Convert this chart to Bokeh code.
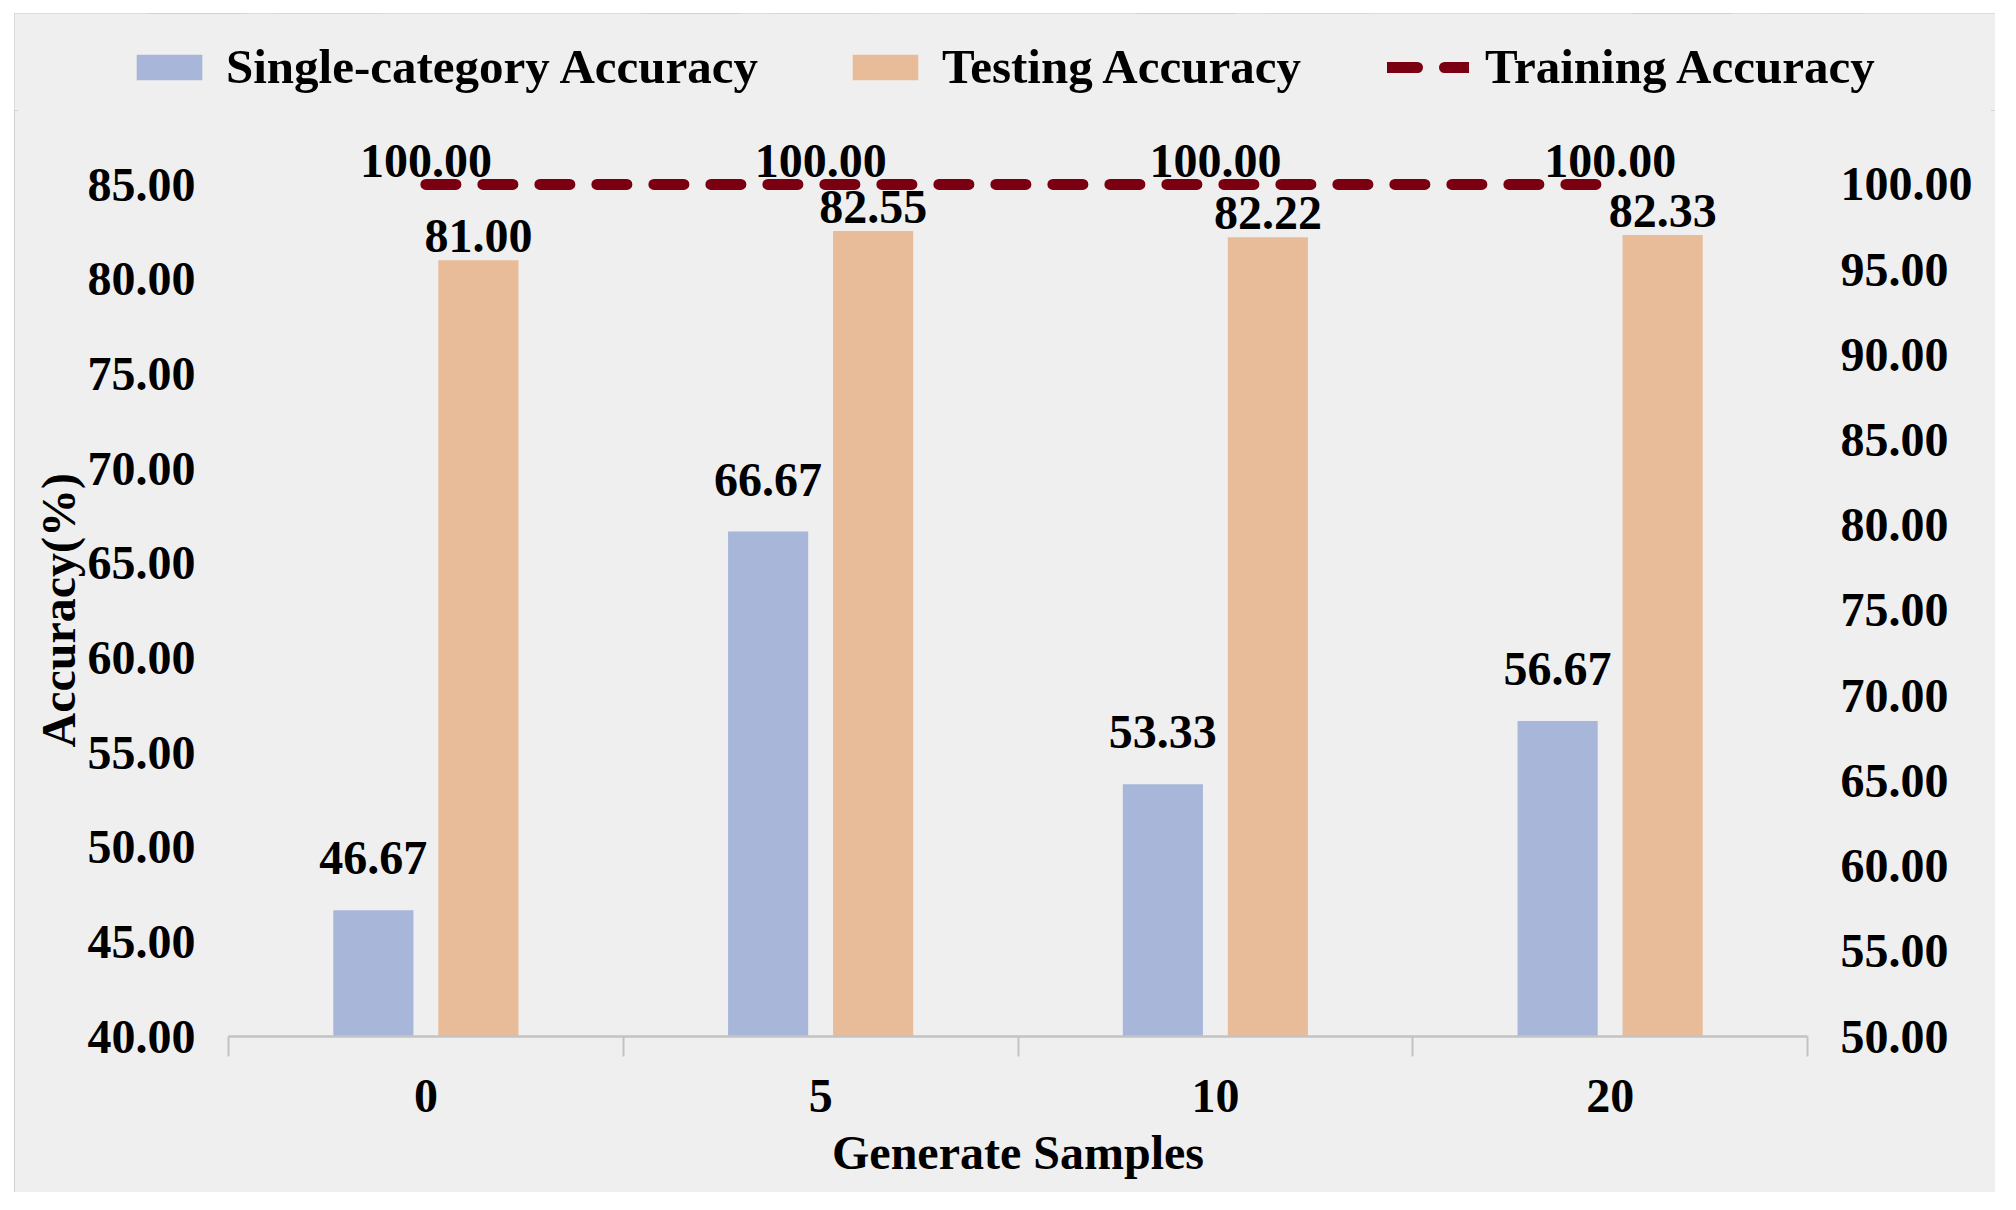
import numpy as np
from bokeh.plotting import figure
from bokeh.layouts import column
from bokeh.models import (Range1d, LinearAxis, FixedTicker, PrintfTickFormatter,
                          ColumnDataSource, LabelSet, Legend, LegendItem, Title)
from bokeh.embed import file_html
from bokeh.resources import INLINE

# ---- data -------------------------------------------------------------
samples = ["0", "5", "10", "20"]
single_category_acc = [46.67, 66.67, 53.33, 56.67]
testing_acc = [81.00, 82.55, 82.22, 82.33]
training_acc = [100.00, 100.00, 100.00, 100.00]
left_ticks = [40, 45, 50, 55, 60, 65, 70, 75, 80, 85]
right_ticks = [50, 55, 60, 65, 70, 75, 80, 85, 90, 95, 100]

# ---- style ------------------------------------------------------------
FONT = "Liberation Serif"
BLUE = "#a7b6d9"
ORANGE = "#e9bc99"
DARK_RED = "#7a0011"
PANEL = "#efefef"
AXIS_GREY = "#c3c3c3"
FS = "48px"
W = 1981
LEGEND_H = 97
MAIN_H = 1082

centers = np.arange(len(samples)) + 0.5
bounds = np.arange(len(samples) + 1)
dodge = 0.133
bar_w = 0.203

src = ColumnDataSource(dict(
    center=centers,
    x_single=centers - dodge,
    x_test=centers + dodge,
    single=single_category_acc,
    testing=testing_acc,
    training=training_acc,
    single_txt=[f"{v:.2f}" for v in single_category_acc],
    testing_txt=[f"{v:.2f}" for v in testing_acc],
    training_txt=[f"{v:.2f}" for v in training_acc],
))

left_range = Range1d(40, 88.91)
right_range = Range1d(50, 104.34)

line_style = dict(line_color=DARK_RED, line_width=11, line_dash="30 27",
                  line_cap="round")


def draw_series(fig, **line_kw):
    """Bars for both accuracies plus the dashed training-accuracy line."""
    r1 = fig.vbar(x="x_single", top="single", bottom=left_range.start, width=bar_w,
                  source=src, fill_color=BLUE, line_color=None)
    r2 = fig.vbar(x="x_test", top="testing", bottom=left_range.start, width=bar_w,
                  source=src, fill_color=ORANGE, line_color=None)
    r3 = fig.line(x="center", y="training", source=src, **line_kw, **line_style)
    return r1, r2, r3


# ---- main chart -------------------------------------------------------
p = figure(width=W, height=MAIN_H, x_range=Range1d(0, len(samples)),
           y_range=left_range, output_backend="svg", toolbar_location=None,
           min_border_left=214, min_border_right=188,
           min_border_top=0, min_border_bottom=156,
           background_fill_color=PANEL, border_fill_color=PANEL,
           outline_line_color=None)
p.frame_align = False
p.extra_y_ranges = {"right": right_range}
p.xgrid.visible = False
p.ygrid.visible = False
draw_series(p, y_range_name="right")

def labels(x, y, text, yoff, **kw):
    return LabelSet(x=x, y=y, text=text, source=src, text_align="center",
                    text_baseline="alphabetic", y_offset=yoff,
                    text_font=FONT, text_font_style="bold",
                    text_font_size=FS, text_color="black", **kw)

p.add_layout(labels("x_single", "single", "single_txt", 36))
p.add_layout(labels("x_test", "testing", "testing_txt", 8))
p.add_layout(labels("center", "training", "training_txt", 7, y_range_name="right"))

xa = p.xaxis[0]
xa.ticker = FixedTicker(ticks=list(centers), minor_ticks=list(bounds))
xa.major_label_overrides = {float(c): s for c, s in zip(centers, samples)}
xa.axis_line_color = AXIS_GREY
xa.axis_line_width = 2.5
xa.major_tick_line_color = None
xa.major_tick_out = 0
xa.major_tick_in = 0
xa.minor_tick_line_color = AXIS_GREY
xa.minor_tick_line_width = 2
xa.minor_tick_out = 20
xa.minor_tick_in = 0
xa.major_label_standoff = 23
xa.axis_label = "Generate Samples"
xa.axis_label_standoff = 11

ya = p.yaxis[0]
ya.ticker = FixedTicker(ticks=left_ticks)

ra = LinearAxis(y_range_name="right", ticker=FixedTicker(ticks=right_ticks))
p.add_layout(ra, "right")

for ax in (ya, ra):
    ax.formatter = PrintfTickFormatter(format="%.2f")
    ax.axis_line_color = None
    ax.major_tick_line_color = None
    ax.minor_tick_line_color = None
    ax.major_tick_out = 0
    ax.major_tick_in = 0
    ax.major_label_standoff = 33

for ax in (xa, ya, ra):
    ax.major_label_text_font = FONT
    ax.major_label_text_font_style = "bold"
    ax.major_label_text_font_size = FS
    ax.major_label_text_color = "black"
    ax.axis_label_text_font = FONT
    ax.axis_label_text_font_style = "bold"
    ax.axis_label_text_font_size = FS
    ax.axis_label_text_color = "black"

# y-axis title, centred on the 40-85 tick span rather than the whole frame
p.add_layout(Title(text="Accuracy(%)", align="left", offset=289, standoff=0,
                   text_font=FONT, text_font_style="bold", text_font_size=FS,
                   text_color="black"), "left")

# ---- legend strip -----------------------------------------------------
# The strip views the same series through a range that keeps them out of
# sight, so only the legend entries are visible.
lg = figure(width=W, height=LEGEND_H, x_range=Range1d(0, len(samples)),
            y_range=Range1d(-2, -1), output_backend="svg", toolbar_location=None,
            x_axis_type=None, y_axis_type=None,
            min_border_left=0, min_border_right=0,
            min_border_top=0, min_border_bottom=0,
            background_fill_color=PANEL, border_fill_color=PANEL,
            outline_line_color=None)
lg.frame_align = False
lg.xgrid.visible = False
lg.ygrid.visible = False
k_single, k_test, k_train = draw_series(lg)

legend = Legend(items=[
    LegendItem(label="Single-category Accuracy", renderers=[k_single]),
    LegendItem(label="Testing Accuracy", renderers=[k_test]),
    LegendItem(label="Training Accuracy", renderers=[k_train]),
], orientation="horizontal", location=(114, 15),
    glyph_width=82, glyph_height=32, label_standoff=16, spacing=86,
    padding=0, margin=0, background_fill_alpha=0, border_line_color=None,
    label_text_font=FONT, label_text_font_style="bold",
    label_text_font_size="49px", label_text_color="black")
lg.add_layout(legend, "center")

page = column(lg, p, spacing=0)
page.margin = (13, 0, 0, 14)
page.styles = {"outline": "4px solid #c8c8c8", "outline-offset": "-4px",
               "background-color": PANEL}

open("out.html", "w").write(file_html(page, INLINE))
